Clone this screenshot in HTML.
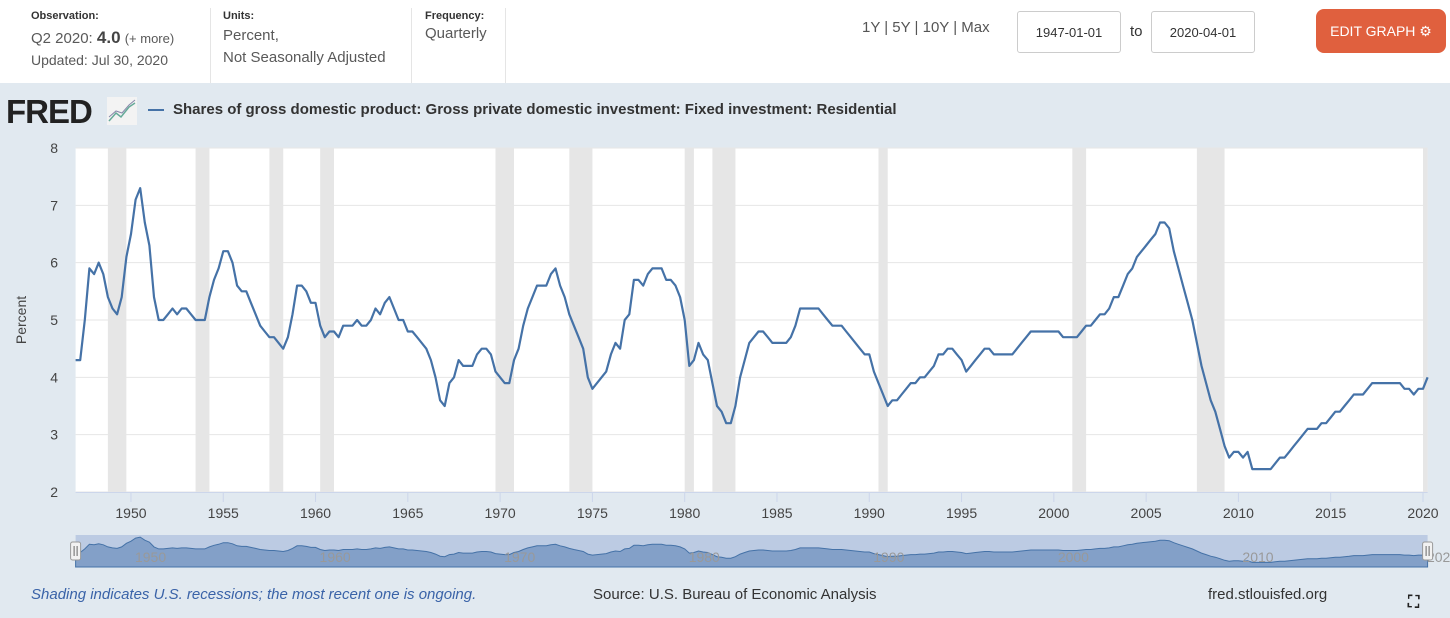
<!DOCTYPE html>
<html><head><meta charset="utf-8">
<style>
body{margin:0;width:1450px;height:618px;overflow:hidden;background:#e1e9f0;font-family:"Liberation Sans",sans-serif;position:relative}
.top{position:absolute;left:0;top:0;width:1450px;height:83px;background:#fff}
.lbl{position:absolute;font-size:11px;font-weight:bold;color:#333}
.val{position:absolute;font-size:15px;color:#595959}
.sep{position:absolute;top:8px;width:1px;height:75px;background:#e5e5e5}
.inp{position:absolute;top:11px;width:104px;height:42px;border:1px solid #ccc;border-radius:3px;background:#fff;font-size:13px;color:#333;line-height:42px;text-align:center;box-sizing:border-box}
</style></head><body>
<div class="top">
<div class="lbl" style="left:31px;top:10px">Observation:</div>
<div class="val" style="left:31px;top:28px">Q2 2020: <b style="color:#444;font-size:17px">4.0</b> <span style="font-size:13px">(+ more)</span></div>
<div class="val" style="left:31px;top:52px;font-size:14px">Updated: Jul 30, 2020</div>
<div class="sep" style="left:210px"></div>
<div class="lbl" style="left:223px;top:10px">Units:</div>
<div class="val" style="left:223px;top:25px;line-height:22px">Percent,<br>Not Seasonally Adjusted</div>
<div class="sep" style="left:411px"></div>
<div class="lbl" style="left:425px;top:10px">Frequency:</div>
<div class="val" style="left:425px;top:25px">Quarterly</div>
<div class="sep" style="left:505px"></div>
<div class="val" style="left:862px;top:19px;font-size:15px;color:#555">1Y | 5Y | 10Y | Max</div>
<div class="inp" style="left:1017px">1947-01-01</div>
<div class="val" style="left:1130px;top:23px;color:#333">to</div>
<div class="inp" style="left:1151px">2020-04-01</div>
<div style="position:absolute;left:1316px;top:9px;width:130px;height:44px;border-radius:8px;background:#e0603e;color:#fff;font-size:14px;line-height:44px;text-align:center">EDIT GRAPH ⚙</div>
</div>
<div style="position:absolute;left:6px;top:93px;font-size:33px;font-weight:900;color:#222;letter-spacing:-1px;font-family:'Liberation Sans',sans-serif">FRED</div>
<svg style="position:absolute;left:107px;top:97px" width="30" height="28"><rect width="30" height="28" fill="#f3f3f3"/><polyline points="2,24 9,16 14,20 22,10 28,6" fill="none" stroke="#6a9" stroke-width="1.5"/><polyline points="2,20 9,14 15,16 22,8 28,3" fill="none" stroke="#88a" stroke-width="1"/></svg>
<div style="position:absolute;left:148px;top:109px;width:16px;height:2px;background:#4572a7"></div>
<div style="position:absolute;left:173px;top:101px;font-size:15px;font-weight:bold;color:#333">Shares of gross domestic product: Gross private domestic investment: Fixed investment: Residential</div>
<svg id="chart" style="position:absolute;left:0;top:0" width="1450" height="618"></svg>
<div style="position:absolute;left:31px;top:586px;font-size:15px;font-style:italic;color:#3a63a8">Shading indicates U.S. recessions; the most recent one is ongoing.</div>
<div style="position:absolute;left:593px;top:586px;font-size:15px;color:#333">Source: U.S. Bureau of Economic Analysis</div>
<div style="position:absolute;left:1208px;top:586px;font-size:15px;color:#333">fred.stlouisfed.org</div>
<div style="position:absolute;left:1408px;top:594px;font-size:16px;color:#222;font-weight:bold">⛶</div>
<script>
const startYear = 1947;
const values = [
4.3,4.3,5.0,5.9, 5.8,6.0,5.8,5.4, 5.2,5.1,5.4,6.1, 6.5,7.1,7.3,6.7, 6.3,5.4,5.0,5.0,
5.1,5.2,5.1,5.2, 5.2,5.1,5.0,5.0, 5.0,5.4,5.7,5.9, 6.2,6.2,6.0,5.6, 5.5,5.5,5.3,5.1,
4.9,4.8,4.7,4.7, 4.6,4.5,4.7,5.1, 5.6,5.6,5.5,5.3, 5.3,4.9,4.7,4.8, 4.8,4.7,4.9,4.9,
4.9,5.0,4.9,4.9, 5.0,5.2,5.1,5.3, 5.4,5.2,5.0,5.0, 4.8,4.8,4.7,4.6, 4.5,4.3,4.0,3.6,
3.5,3.9,4.0,4.3, 4.2,4.2,4.2,4.4, 4.5,4.5,4.4,4.1, 4.0,3.9,3.9,4.3, 4.5,4.9,5.2,5.4,
5.6,5.6,5.6,5.8, 5.9,5.6,5.4,5.1, 4.9,4.7,4.5,4.0, 3.8,3.9,4.0,4.1, 4.4,4.6,4.5,5.0,
5.1,5.7,5.7,5.6, 5.8,5.9,5.9,5.9, 5.7,5.7,5.6,5.4, 5.0,4.2,4.3,4.6, 4.4,4.3,3.9,3.5,
3.4,3.2,3.2,3.5, 4.0,4.3,4.6,4.7, 4.8,4.8,4.7,4.6, 4.6,4.6,4.6,4.7, 4.9,5.2,5.2,5.2,
5.2,5.2,5.1,5.0, 4.9,4.9,4.9,4.8, 4.7,4.6,4.5,4.4, 4.4,4.1,3.9,3.7, 3.5,3.6,3.6,3.7,
3.8,3.9,3.9,4.0, 4.0,4.1,4.2,4.4, 4.4,4.5,4.5,4.4, 4.3,4.1,4.2,4.3, 4.4,4.5,4.5,4.4,
4.4,4.4,4.4,4.4, 4.5,4.6,4.7,4.8, 4.8,4.8,4.8,4.8, 4.8,4.8,4.7,4.7, 4.7,4.7,4.8,4.9,
4.9,5.0,5.1,5.1, 5.2,5.4,5.4,5.6, 5.8,5.9,6.1,6.2, 6.3,6.4,6.5,6.7, 6.7,6.6,6.2,5.9,
5.6,5.3,5.0,4.6, 4.2,3.9,3.6,3.4, 3.1,2.8,2.6,2.7, 2.7,2.6,2.7,2.4, 2.4,2.4,2.4,2.4,
2.5,2.6,2.6,2.7, 2.8,2.9,3.0,3.1, 3.1,3.1,3.2,3.2, 3.3,3.4,3.4,3.5, 3.6,3.7,3.7,3.7,
3.8,3.9,3.9,3.9, 3.9,3.9,3.9,3.9, 3.8,3.8,3.7,3.8, 3.8,4.0
];
const recessionStarts = [1948.75,1953.5,1957.5,1960.25,1969.75,1973.75,1980.0,1981.5,1990.5,2001.0,2007.75,2020.0];
const recessionEnds   = [1949.75,1954.25,1958.25,1961.0,1970.75,1975.0,1980.5,1982.75,1991.0,2001.75,2009.25,2020.25];
const yTicks = [2,3,4,5,6,7,8];
const xTicks = [1950,1955,1960,1965,1970,1975,1980,1985,1990,1995,2000,2005,2010,2015,2020];

const NS='http://www.w3.org/2000/svg';
const svg=document.getElementById('chart');
const L=75.6,R=1427.6,T=148,B=492,X0=1947,X1=2020.25;
const xs=t=>L+(t-X0)/(X1-X0)*(R-L);
const ys=v=>B-(v-2)/6*(B-T);
function mk(tag,a,parent){const e=document.createElementNS(NS,tag);for(const k in a)e.setAttribute(k,a[k]);(parent||svg).appendChild(e);return e;}
const bg=mk('rect',{x:L,y:T,width:R-L,height:B-T,fill:'#fff'});


recessionStarts.forEach((s,i)=>{
  const r=mk('rect',{x:xs(s),y:T,width:xs(recessionEnds[i])-xs(s),height:B-T,fill:'#e6e6e6'});
  
  
});
yTicks.forEach(v=>{
  const g=mk('line',{x1:L,x2:R,y1:ys(v),y2:ys(v),stroke:'#e6e6e6','stroke-width':1});
  
  
  const t=mk('text',{x:58,y:ys(v)+5,'text-anchor':'end','font-size':14,fill:'#444','font-family':'Liberation Sans, sans-serif'});
  t.textContent=v;
  
  
});
mk('line',{x1:L,x2:R,y1:B+0.5,y2:B+0.5,stroke:'#ccd6eb','stroke-width':1});
xTicks.forEach(y=>{
  mk('line',{x1:xs(y),x2:xs(y),y1:B,y2:B+10,stroke:'#ccd6eb'});
  const t=mk('text',{x:xs(y),y:518,'text-anchor':'middle','font-size':14,fill:'#444','font-family':'Liberation Sans, sans-serif'});
  t.textContent=y;
  
  
});
const yt=mk('text',{x:26,y:320,'text-anchor':'middle','font-size':14,fill:'#444',transform:'rotate(-90 26 320)','font-family':'Liberation Sans, sans-serif'});
yt.textContent='Percent';


const pts=values.map((v,i)=>xs(startYear+i/4).toFixed(1)+','+ys(v).toFixed(1)).join(' ');
const line=mk('polyline',{points:pts,fill:'none',stroke:'#4572a7','stroke-width':2.2,'stroke-linejoin':'round'});


// navigator
const NT=535,NB=567;
const ny=v=>NB-(v-1.5)/6.2*(NB-NT);
const nbg=mk('rect',{x:L,y:NT,width:R-L,height:NB-NT,fill:'#bccbe3'});


const area=mk('polygon',{points:xs(X0)+','+NB+' '+values.map((v,i)=>xs(startYear+i/4).toFixed(1)+','+ny(v).toFixed(1)).join(' ')+' '+xs(startYear+(values.length-1)/4)+','+NB,fill:'#83a0c8',stroke:'#4572a7','stroke-width':1});


[1950,1960,1970,1980,1990,2000,2010,2020].forEach(y=>{
  const t=mk('text',{x:xs(y)+4,y:562,'font-size':14,fill:'#999','font-family':'Liberation Sans, sans-serif'});
  t.textContent=y;
  
  
});
[L,R].forEach(x=>{
  const h=mk('rect',{x:x-5,y:542,width:10,height:18,rx:2,fill:'#f2f2f2',stroke:'#999'});
  
  
  mk('line',{x1:x-1.5,x2:x-1.5,y1:546,y2:556,stroke:'#666'});
  mk('line',{x1:x+1.5,x2:x+1.5,y1:546,y2:556,stroke:'#666'});
});
</script>
</body></html>
